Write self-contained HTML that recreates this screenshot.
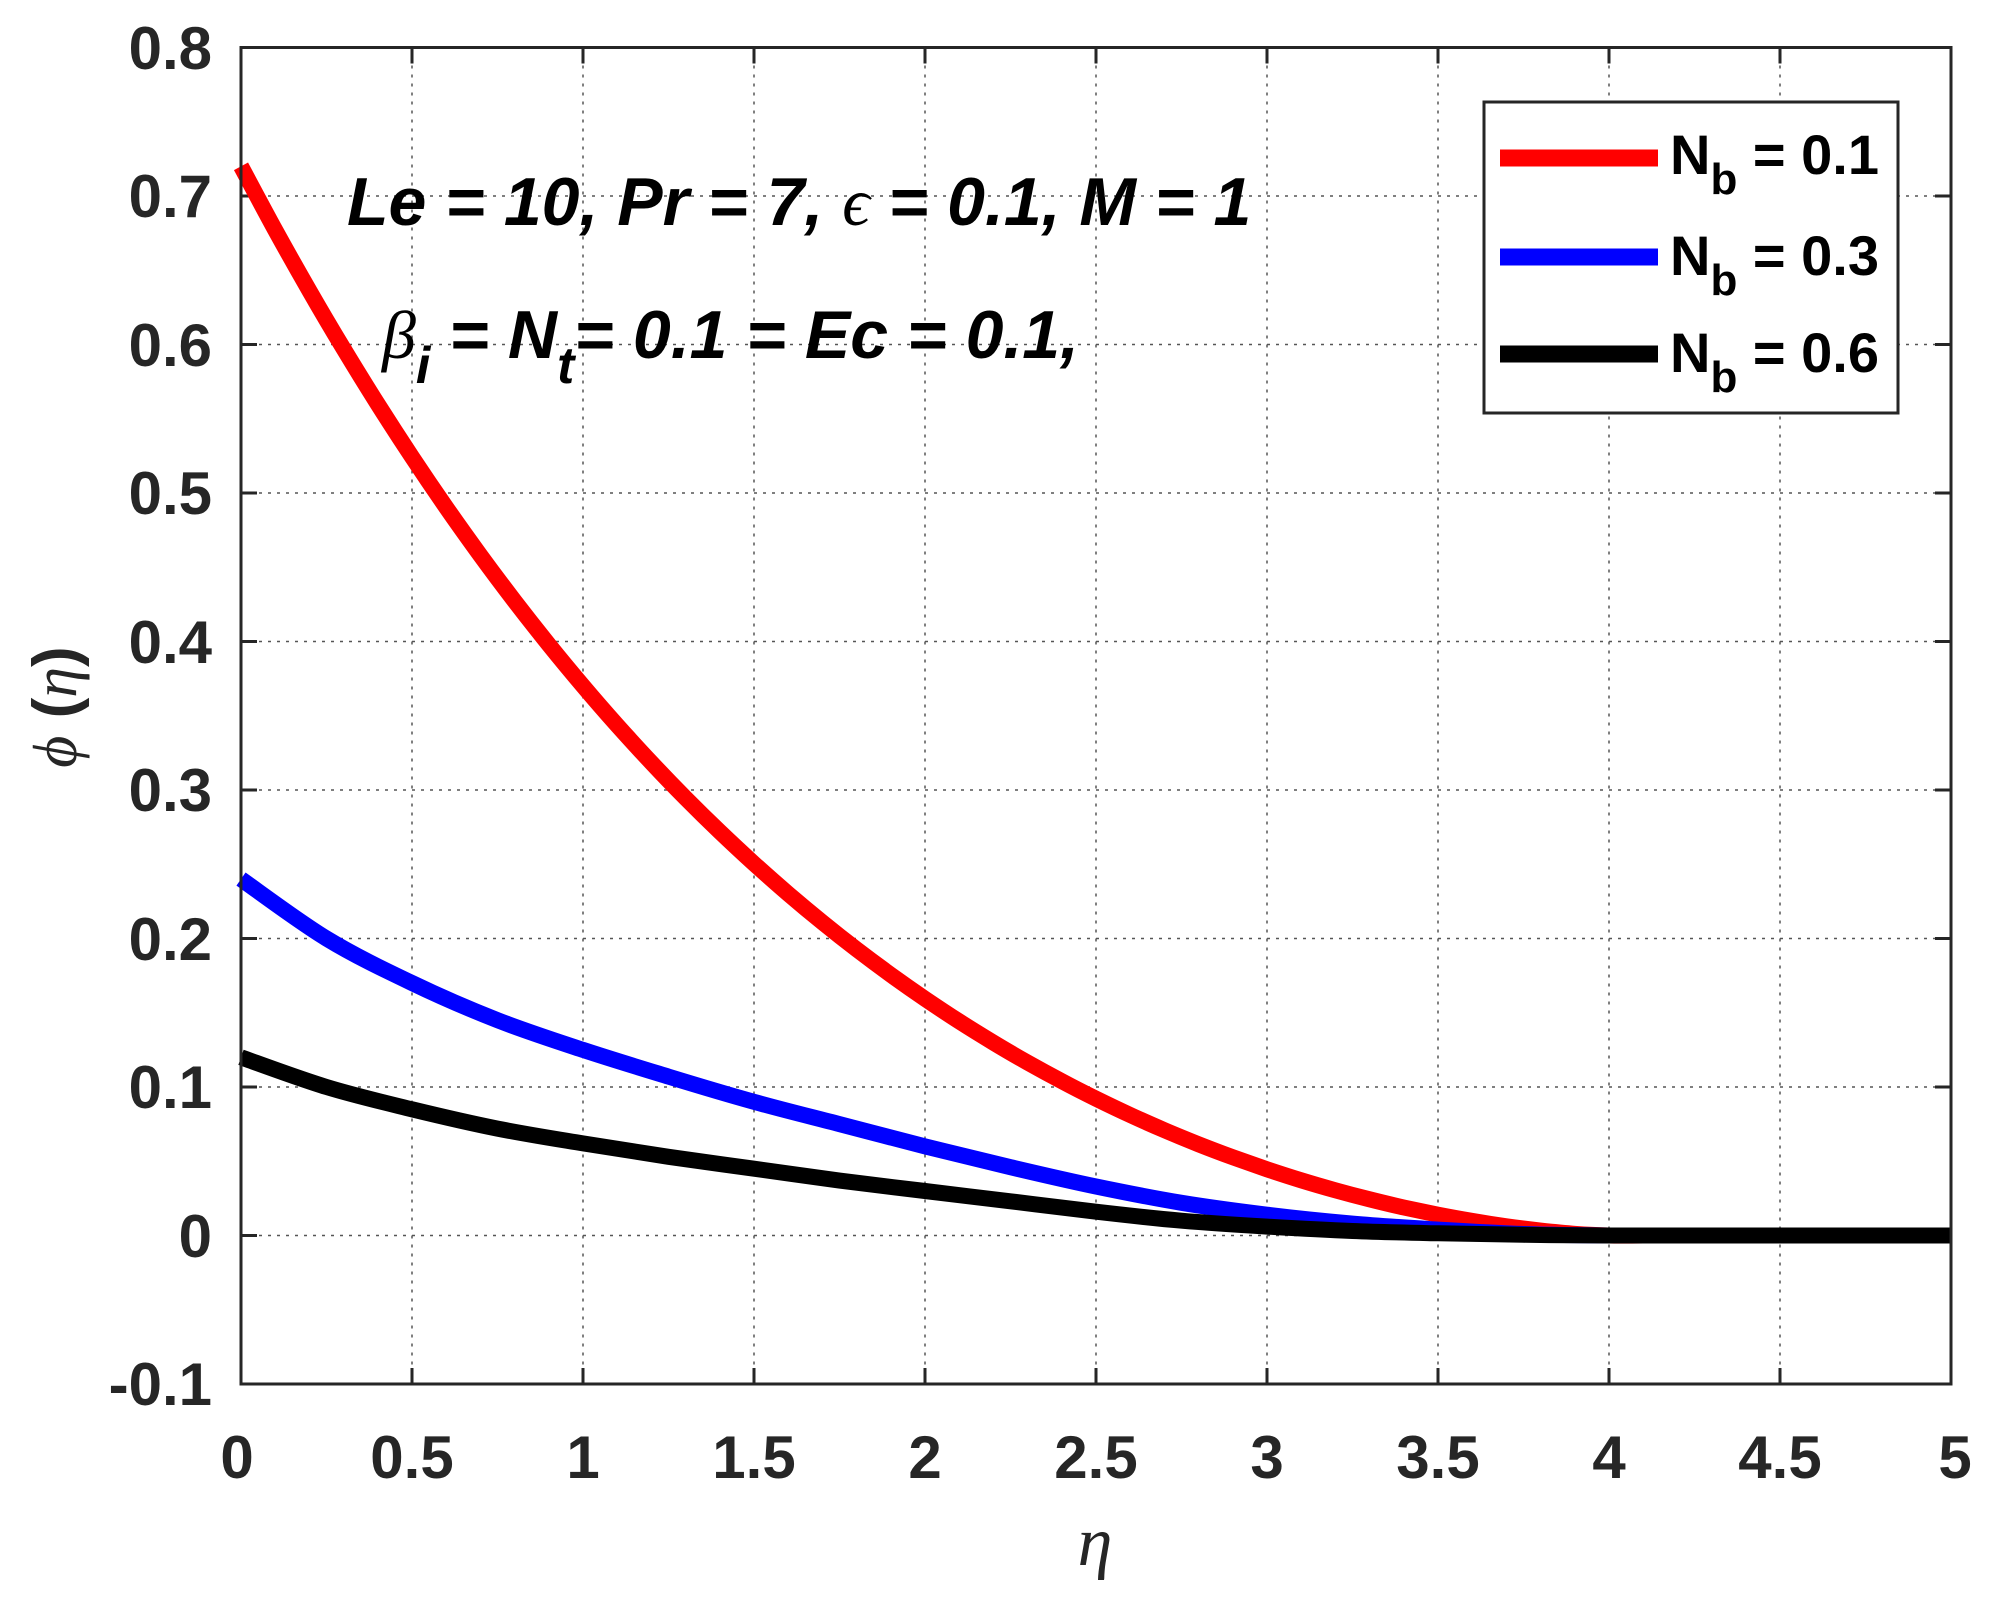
<!DOCTYPE html>
<html><head><meta charset="utf-8"><style>
html,body{margin:0;padding:0;background:#fff;}
svg{display:block;}
text{font-family:"Liberation Sans",Arial,sans-serif;font-weight:bold;fill:#262626;}
.g{font-family:"Liberation Serif","DejaVu Serif",serif;font-weight:normal;font-style:italic;}
</style></head><body>
<svg id="s" width="1991" height="1609" viewBox="0 0 1991 1609" xmlns="http://www.w3.org/2000/svg">
<rect width="1991" height="1609" fill="#fff"/>
<g stroke="#555" stroke-width="1.5" stroke-dasharray="3,6" fill="none">
<line x1="412" y1="47.5" x2="412" y2="1384"/><line x1="583" y1="47.5" x2="583" y2="1384"/>
<line x1="754" y1="47.5" x2="754" y2="1384"/><line x1="925" y1="47.5" x2="925" y2="1384"/>
<line x1="1096" y1="47.5" x2="1096" y2="1384"/><line x1="1267" y1="47.5" x2="1267" y2="1384"/>
<line x1="1438" y1="47.5" x2="1438" y2="1384"/><line x1="1609" y1="47.5" x2="1609" y2="1384"/>
<line x1="1780" y1="47.5" x2="1780" y2="1384"/>
<line x1="241" y1="196" x2="1951" y2="196"/><line x1="241" y1="344.5" x2="1951" y2="344.5"/>
<line x1="241" y1="493" x2="1951" y2="493"/><line x1="241" y1="641.5" x2="1951" y2="641.5"/>
<line x1="241" y1="790" x2="1951" y2="790"/><line x1="241" y1="938.5" x2="1951" y2="938.5"/>
<line x1="241" y1="1087" x2="1951" y2="1087"/><line x1="241" y1="1235.5" x2="1951" y2="1235.5"/>
</g>
<g stroke="#262626" stroke-width="3">
<path d="M412 1384v-16M583 1384v-16M754 1384v-16M925 1384v-16M1096 1384v-16M1267 1384v-16M1438 1384v-16M1609 1384v-16M1780 1384v-16"/>
<path d="M412 47.5v16M583 47.5v16M754 47.5v16M925 47.5v16M1096 47.5v16M1267 47.5v16M1438 47.5v16M1609 47.5v16M1780 47.5v16"/>
<path d="M241 196h16M241 344.5h16M241 493h16M241 641.5h16M241 790h16M241 938.5h16M241 1087h16M241 1235.5h16"/>
<path d="M1951 196h-16M1951 344.5h-16M1951 493h-16M1951 641.5h-16M1951 790h-16M1951 938.5h-16M1951 1087h-16M1951 1235.5h-16"/>
</g>
<g fill="none" stroke-width="16" stroke-linejoin="round">
<path id="r" stroke="#ff0000"/>
<path id="b" stroke="#0000ff"/>
<path id="k" stroke="#000000"/>
</g>
<rect x="241" y="47.5" width="1710" height="1336.5" fill="none" stroke="#262626" stroke-width="3"/>
<g font-size="60" text-anchor="end">
<text x="212" y="69">0.8</text><text x="212" y="217">0.7</text><text x="212" y="366">0.6</text>
<text x="212" y="514">0.5</text><text x="212" y="663">0.4</text><text x="212" y="811">0.3</text>
<text x="212" y="960">0.2</text><text x="212" y="1108">0.1</text><text x="212" y="1257">0</text>
<text x="212" y="1405">-0.1</text>
</g>
<g font-size="60" text-anchor="middle">
<text x="237" y="1478">0</text><text x="412" y="1478">0.5</text><text x="583" y="1478">1</text>
<text x="754" y="1478">1.5</text><text x="925" y="1478">2</text><text x="1096" y="1478">2.5</text>
<text x="1267" y="1478">3</text><text x="1438" y="1478">3.5</text><text x="1609" y="1478">4</text>
<text x="1780" y="1478">4.5</text><text x="1955" y="1478">5</text>
</g>
<text x="1095" y="1565" font-size="70" class="g" text-anchor="middle">η</text>
<text transform="translate(76,707) rotate(-90)" font-size="62" text-anchor="middle"><tspan class="g">ϕ</tspan> (<tspan class="g">η</tspan>)</text>
<g font-size="68" font-style="italic">
<text x="347" y="225" style="fill:#000">Le = 10, Pr = 7,  <tspan class="g">ϵ</tspan> = 0.1, M = 1</text>
<text x="382" y="358" style="fill:#000"><tspan class="g">β</tspan><tspan font-size="52" dy="25">i</tspan><tspan dy="-25"> = N</tspan><tspan font-size="52" dy="25">t</tspan><tspan dy="-25">= 0.1 = Ec = 0.1,</tspan></text>
</g>
<rect x="1484" y="102" width="414" height="311" fill="#fff" stroke="#262626" stroke-width="3"/>
<g stroke-width="17">
<line x1="1500" y1="158" x2="1658" y2="158" stroke="#ff0000"/>
<line x1="1500" y1="257" x2="1658" y2="257" stroke="#0000ff"/>
<line x1="1500" y1="354" x2="1658" y2="354" stroke="#000"/>
</g>
<g font-size="56">
<text x="1670" y="174" style="fill:#000">N<tspan font-size="44" dy="20">b</tspan><tspan dy="-20"> = 0.1</tspan></text>
<text x="1670" y="275" style="fill:#000">N<tspan font-size="44" dy="20">b</tspan><tspan dy="-20"> = 0.3</tspan></text>
<text x="1670" y="372" style="fill:#000">N<tspan font-size="44" dy="20">b</tspan><tspan dy="-20"> = 0.6</tspan></text>
</g>
</svg>
<script>
var X=function(e){return 241+342*e;},Y=function(v){return 1235.5-1485*v;};
function setPath(id,pts){
  var p=pts;
  var d="M"+p[0][0].toFixed(1)+" "+p[0][1].toFixed(1);
  for(var i=0;i<p.length-1;i++){
    var p0=p[i>0?i-1:i],p1=p[i],p2=p[i+1],p3=p[i+2<p.length?i+2:i+1];
    var c1x=p1[0]+(p2[0]-p0[0])/6,c1y=p1[1]+(p2[1]-p0[1])/6;
    var c2x=p2[0]-(p3[0]-p1[0])/6,c2y=p2[1]-(p3[1]-p1[1])/6;
    d+=" C"+c1x.toFixed(1)+" "+c1y.toFixed(1)+" "+c2x.toFixed(1)+" "+c2y.toFixed(1)+" "+p2[0].toFixed(1)+" "+p2[1].toFixed(1);
  }
  document.getElementById(id).setAttribute("d",d);
}
function mk(id,vals){
  var p=[];for(var i=0;i<vals.length;i++)p.push([X(i*0.25),Y(vals[i])]);
  p.push([X(4.5),Y(0)]);p.push([X(5),Y(0)]);
  setPath(id,p);
}
var rp=[];
for(var e=0;e<=5.0001;e+=0.1){var t=Math.max(0,1-e/4);rp.push([X(e),Y(0.72*Math.pow(t,1.5)*Math.exp(-0.234*e))]);}
setPath("r",rp);
mk("b",[0.24,0.2,0.17,0.145,0.125,0.107,0.09,0.075,0.06,0.046,0.033,0.022,0.014,0.008,0.004,0.001,0]);
mk("k",[0.12,0.1,0.085,0.072,0.062,0.053,0.045,0.037,0.03,0.023,0.016,0.01,0.006,0.003,0.0015,0.0005,0]);
</script>
</body></html>
